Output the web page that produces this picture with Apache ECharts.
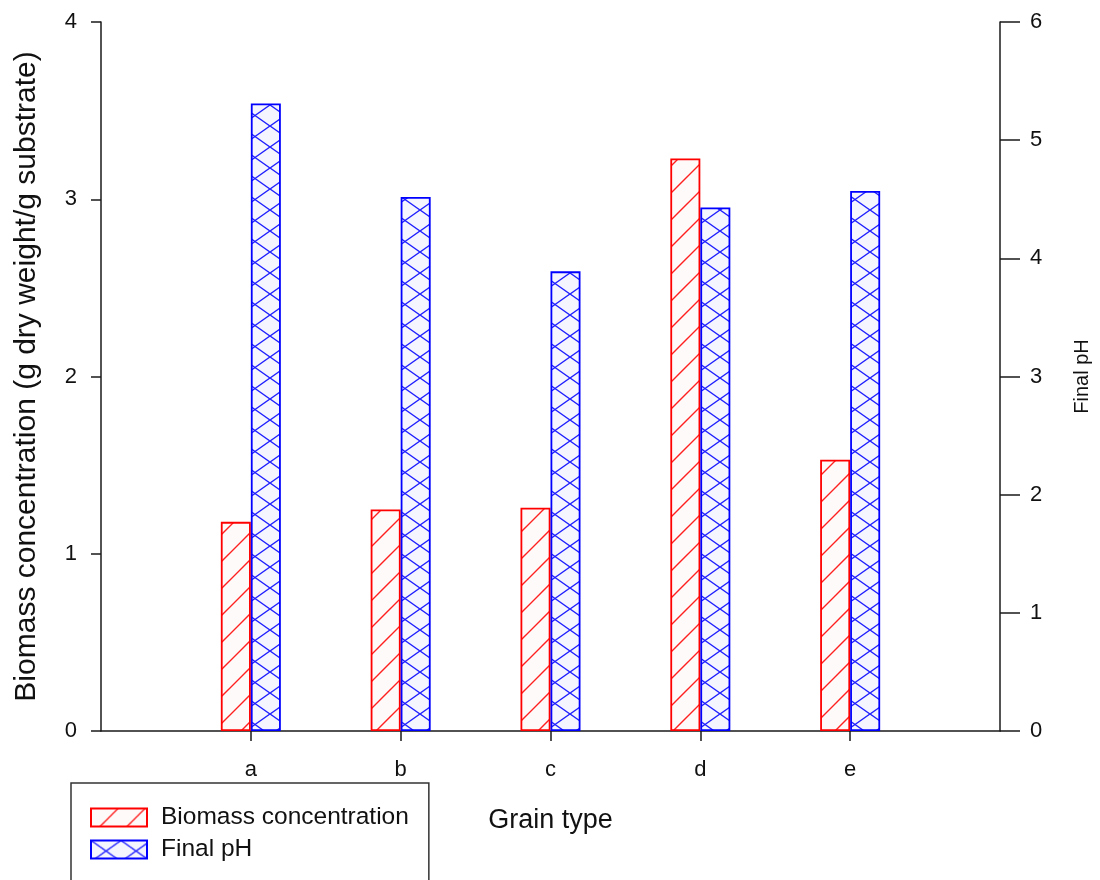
<!DOCTYPE html>
<html>
<head>
<meta charset="utf-8">
<script src="https://cdn.jsdelivr.net/npm/echarts@6/dist/echarts.min.js"></script>
<style>html,body{margin:0;padding:0;background:#fff}#main{width:1100px;height:880px}</style>
</head>
<body>
<div id="main"></div>
<script>
const categories = ['', 'a', 'b', 'c', 'd', 'e', ''];
const biomass = [null, 1.18, 1.25, 1.26, 3.23, 1.53, null];
const finalPH = [null, 5.31, 4.52, 3.89, 4.43, 4.57, null];
const leftTicks = [0, 4, 1];   // min, max, interval
const rightTicks = [0, 6, 1];

const FONT = '"Liberation Sans", Arial, sans-serif';

function hatchPattern() {
  const c = document.createElement('canvas');
  c.width = 27; c.height = 27;
  const g = c.getContext('2d');
  g.fillStyle = '#fffafa'; g.fillRect(0, 0, 27, 27);
  g.strokeStyle = '#ff2020'; g.lineWidth = 1.4;
  g.beginPath();
  g.moveTo(-2, 29); g.lineTo(29, -2);
  g.moveTo(-2, 2); g.lineTo(2, -2);
  g.moveTo(25, 29); g.lineTo(29, 25);
  g.stroke();
  return c;
}
function crossPattern() {
  const W = 30, H = 21;
  const c = document.createElement('canvas');
  c.width = W; c.height = H;
  const g = c.getContext('2d');
  g.fillStyle = '#f5f5ff'; g.fillRect(0, 0, W, H);
  g.strokeStyle = '#2020ff'; g.lineWidth = 1.4;
  g.beginPath();
  g.moveTo(0, 0); g.lineTo(W, H);
  g.moveTo(W, 0); g.lineTo(0, H);
  g.stroke();
  return c;
}

const chart = echarts.init(document.getElementById('main'), null, {renderer: 'canvas'});
const axisLineStyle = {color: '#1a1a1a', width: 1.5};
chart.setOption({
  backgroundColor: '#ffffff',
  animation: false,
  grid: {left: 101, right: 100, top: 22, bottom: 149, containLabel: false},
  legend: {
    orient: 'vertical',
    left: 71, top: 783, height: 200,
    padding: [22, 20, 60, 19],
    icon: 'rect',
    itemWidth: 56, itemHeight: 18, itemGap: 7,
    borderColor: '#333', borderWidth: 1.5,
    textStyle: {fontFamily: FONT, fontSize: 24.5, color: '#111', padding: [0, 0, 0, 9]},
    data: ['Biomass concentration', 'Final pH']
  },
  xAxis: {
    type: 'category',
    data: categories,
    boundaryGap: false,
    name: 'Grain type',
    nameLocation: 'middle',
    nameGap: 76,
    nameTextStyle: {fontFamily: FONT, fontSize: 27, color: '#111'},
    axisLine: {lineStyle: axisLineStyle},
    axisTick: {show: true, length: 10, inside: false, lineStyle: axisLineStyle,
               interval: function (idx, val) { return val !== ''; }},
    axisLabel: {fontFamily: FONT, fontSize: 22, color: '#111', margin: 28, interval: 0},
    splitLine: {show: false}
  },
  yAxis: [
    {
      type: 'value', position: 'left',
      min: leftTicks[0], max: leftTicks[1], interval: leftTicks[2],
      name: 'Biomass concentration (g dry weight/g substrate)',
      nameLocation: 'middle', nameGap: 59, nameRotate: 90,
      nameTextStyle: {fontFamily: FONT, fontSize: 30, color: '#111'},
      axisLine: {show: true, lineStyle: axisLineStyle},
      axisTick: {show: true, length: 10, lineStyle: axisLineStyle},
      axisLabel: {fontFamily: FONT, fontSize: 22, color: '#111', margin: 24},
      splitLine: {show: false}
    },
    {
      type: 'value', position: 'right',
      min: rightTicks[0], max: rightTicks[1], interval: rightTicks[2],
      name: 'Final pH',
      nameLocation: 'middle', nameGap: 72, nameRotate: 90,
      nameTextStyle: {fontFamily: FONT, fontSize: 20, color: '#111'},
      axisLine: {show: true, lineStyle: axisLineStyle},
      axisTick: {show: true, length: 20, lineStyle: axisLineStyle},
      axisLabel: {fontFamily: FONT, fontSize: 22, color: '#111', margin: 30},
      splitLine: {show: false}
    }
  ],
  series: [
    {
      name: 'Biomass concentration',
      type: 'bar',
      yAxisIndex: 0,
      data: biomass,
      barWidth: 30,
      barGap: '0%',
      itemStyle: {color: {image: hatchPattern(), repeat: 'repeat'}, borderColor: '#ff0000', borderWidth: 1.8}
    },
    {
      name: 'Final pH',
      type: 'bar',
      yAxisIndex: 1,
      data: finalPH,
      barWidth: 30,
      barGap: '0%',
      itemStyle: {color: {image: crossPattern(), repeat: 'repeat'}, borderColor: '#0000ff', borderWidth: 1.8}
    }
  ]
});
</script>
</body>
</html>
